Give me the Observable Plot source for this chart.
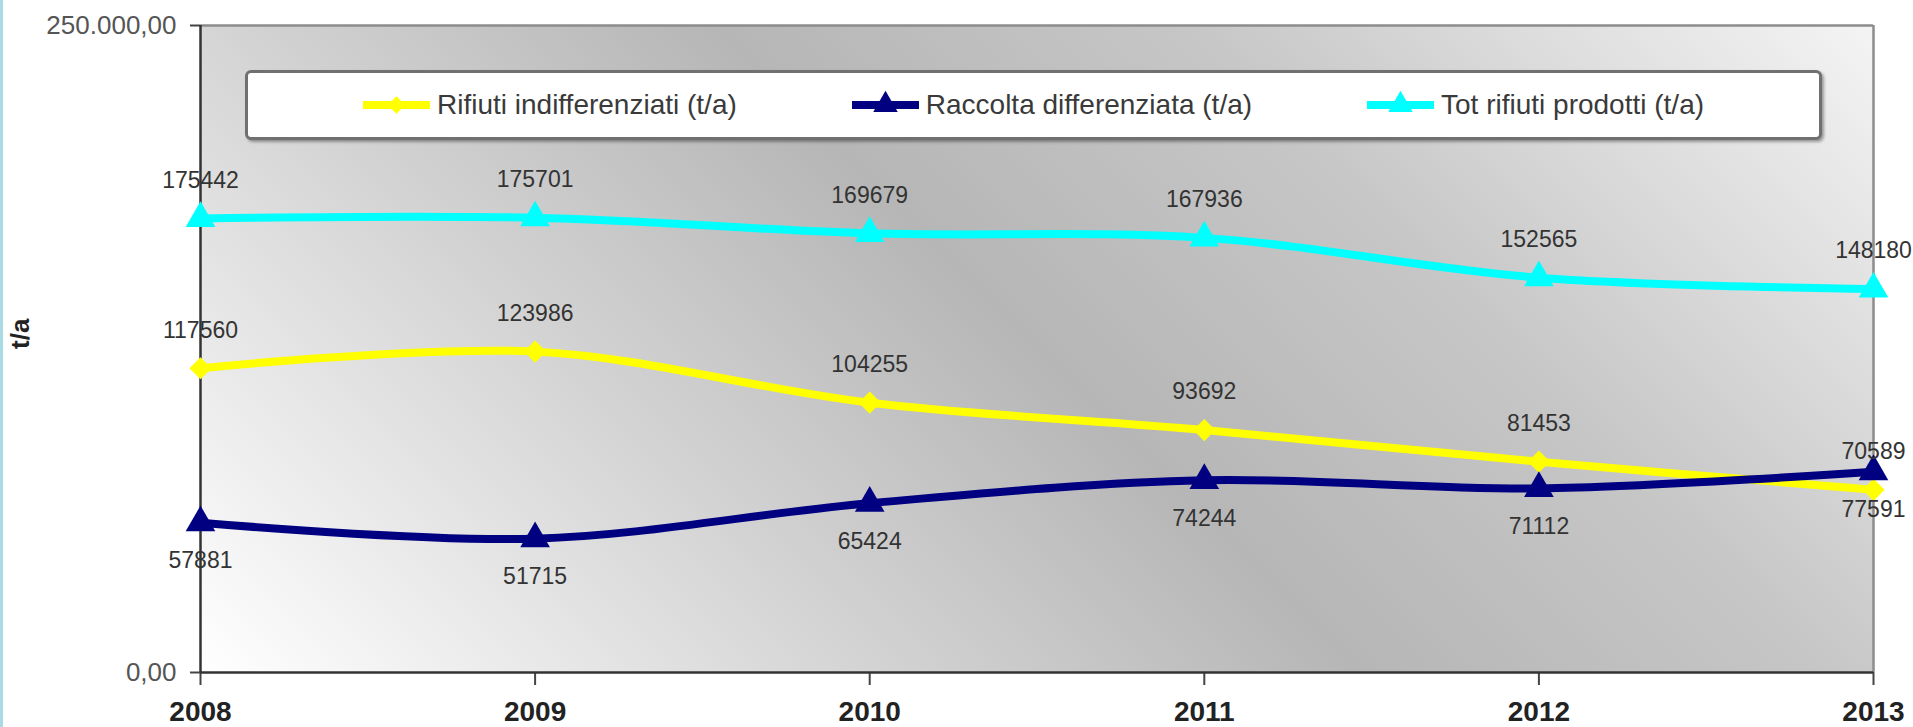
<!DOCTYPE html>
<html>
<head>
<meta charset="utf-8">
<script src="https://cdn.jsdelivr.net/npm/d3@7"></script>
<script src="https://cdn.jsdelivr.net/npm/@observablehq/plot@0.6"></script>
<style>
  html, body { margin: 0; padding: 0; background: #ffffff; }
  #wrap { position: relative; width: 1913px; height: 727px; overflow: hidden; font-family: "Liberation Sans", Arial, sans-serif; }
  #edge { position: absolute; left: 0; top: 0; width: 3px; height: 727px; background: #a8dbe3; }
  #legend { position: absolute; left: 245px; top: 70px; width: 1571px; height: 64px;
    background: #ffffff; border: 3px solid #707070; border-radius: 6px;
    box-shadow: 2px 2px 3px rgba(0,0,0,0.35);
    display: flex; align-items: center; justify-content: space-evenly; }
  .item { display: flex; align-items: center; font-size: 28px; color: #3a3a3a; white-space: nowrap; }
  .item svg { margin-right: 7px; }
</style>
</head>
<body>
<div id="wrap"><div id="edge"></div></div>
<script>
// ---- data ----
const years = [2008, 2009, 2010, 2011, 2012, 2013];
const indifferenziati = [117560, 123986, 104255, 93692, 81453, 70589];
const differenziata = [57881, 51715, 65424, 74244, 71112, 77591];
const totale = [175442, 175701, 169679, 167936, 152565, 148180];
const seriesNames = ["Rifiuti indifferenziati (t/a)", "Raccolta differenziata (t/a)", "Tot rifiuti prodotti (t/a)"];
const seriesColors = ["#ffff00", "#000080", "#00ffff"];
const seriesSymbols = ["diamond2", "triangle", "triangle"];
const labelSide = [-1, 1, -1];
const yTicks = [0, 250000];
const yTitle = "t/a";

const seriesValues = [indifferenziati, differenziata, totale];
const series = seriesNames.map((name, i) => ({
  name, color: seriesColors[i], symbol: seriesSymbols[i], side: labelSide[i],
  rows: years.map((year, j) => ({year, value: seriesValues[i][j]}))
}));

const it = d3.formatLocale({decimal: ",", thousands: ".", grouping: [3], currency: ["", "€"]});
const fmt = it.format(",.2f");

const marks = [
  Plot.frame({fill: "url(#plotBg)", stroke: null}),
  Plot.ruleY([250000], {stroke: "#8c8c8c", strokeWidth: 2.5}),
  Plot.ruleX([2013], {stroke: "#8c8c8c", strokeWidth: 2.5}),
  Plot.axisX({ticks: years, tickFormat: "d", tickSize: 13, tickPadding: 16, fontSize: 28, fontWeight: "bold",
    fill: "#222", stroke: "#444", strokeWidth: 2, label: null}),
  Plot.axisY({ticks: yTicks, tickFormat: fmt, tickSize: 10, tickPadding: 14, fontSize: 26,
    fill: "#555", stroke: "#444", strokeWidth: 2, label: null}),
  Plot.ruleX([2008], {stroke: "#333", strokeWidth: 2.5}),
  Plot.ruleY([0], {stroke: "#333", strokeWidth: 2.5}),
  Plot.text([yTitle], {frameAnchor: "left", dx: -180, rotate: -90, fontSize: 26, fontWeight: "bold", fill: "#222"})
];
for (const s of series) {
  marks.push(Plot.line(s.rows, {x: "year", y: "value", stroke: s.color, strokeWidth: 8, curve: "catmull-rom"}));
  marks.push(Plot.dot(s.rows, {x: "year", y: "value", fill: s.color, stroke: null, symbol: s.symbol, r: s.symbol === "triangle" ? 11 : 10}));
}
for (const s of series) {
  marks.push(Plot.text(s.rows, {x: "year", y: "value", text: d => String(d.value), dy: s.side * 38,
    fontSize: 23, fill: "#333"}));
}

const chart = Plot.plot({
  width: 1913, height: 727,
  marginLeft: 200, marginRight: 40, marginTop: 25, marginBottom: 55,
  style: {fontFamily: "'Liberation Sans', Arial, sans-serif", background: "transparent", overflow: "visible"},
  x: {domain: [2008, 2013]},
  y: {domain: [0, 250000]},
  marks
});

d3.select(chart).insert("defs", ":first-child").html(`
  <linearGradient id="plotBg" gradientUnits="userSpaceOnUse" x1="200" y1="672" x2="1360" y2="-488">
    <stop offset="0" stop-color="#ffffff"/>
    <stop offset="0.3" stop-color="#d2d2d2"/>
    <stop offset="0.5" stop-color="#b6b6b6"/>
    <stop offset="0.7" stop-color="#c6c6c6"/>
    <stop offset="1" stop-color="#f4f4f4"/>
  </linearGradient>`);

const wrap = document.getElementById("wrap");
wrap.insertBefore(chart, wrap.firstChild);

// legend inside the plot area
const legend = document.createElement("div");
legend.id = "legend";
for (const s of series) {
  const item = document.createElement("div");
  item.className = "item";
  const sw = d3.create("svg").attr("width", 67).attr("height", 30);
  sw.append("line").attr("x1", 0).attr("x2", 67).attr("y1", 15).attr("y2", 15)
    .attr("stroke", s.color).attr("stroke-width", 8);
  const sym = s.symbol === "triangle" ? d3.symbolTriangle : d3.symbolDiamond2;
  sw.append("path").attr("d", d3.symbol(sym, s.symbol === "triangle" ? 260 : 200)())
    .attr("transform", "translate(33.5,15)").attr("fill", s.color);
  item.appendChild(sw.node());
  const span = document.createElement("span");
  span.textContent = s.name;
  item.appendChild(span);
  legend.appendChild(item);
}
wrap.appendChild(legend);
</script>
</body>
</html>
